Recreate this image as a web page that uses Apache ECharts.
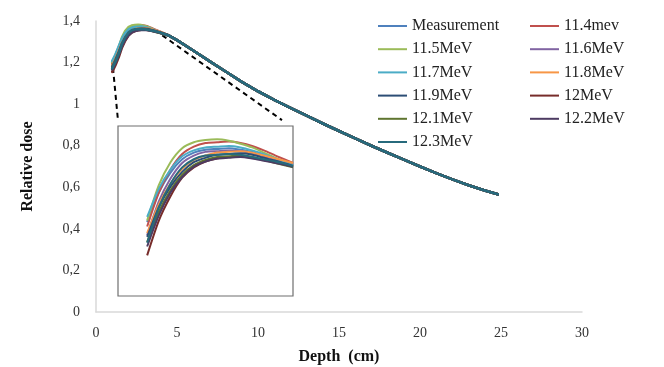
<!DOCTYPE html>
<html>
<head>
<meta charset="utf-8">
<script src="https://cdn.jsdelivr.net/npm/echarts@6/dist/echarts.min.js"></script>
<style>html,body{margin:0;padding:0;background:#fff}#c{width:664px;height:367px}</style>
</head>
<body>
<div id="c"></div>
<script>
// ---- data ----
var seriesNames = ['Measurement','11.4mev','11.5MeV','11.6MeV','11.7MeV','11.8MeV','11.9MeV','12MeV','12.1MeV','12.2MeV','12.3MeV'];
var seriesColors = ['#4F81BD','#C0504D','#9BBB59','#8064A2','#4BACC6','#F79646','#2C4D75','#772C2A','#5F7530','#4D3B62','#276A7C'];
var legendLeftNames = ['Measurement','11.5MeV','11.7MeV','11.9MeV','12.1MeV','12.3MeV'];
var legendRightNames = ['11.4mev','11.6MeV','11.8MeV','12MeV','12.2MeV'];

// build-up region depths (cm)
var headDepth = [1.0, 1.2, 1.4, 1.6, 1.8, 2.0, 2.2, 2.4, 2.6, 2.8, 3.0, 3.2, 3.4, 3.6, 3.9];
var doseMeasurement = [1.200,1.232,1.270,1.310,1.337,1.355,1.364,1.368,1.369,1.370,1.368,1.365,1.360,1.355,1.347];
var dose11_4 = [1.194,1.226,1.264,1.310,1.341,1.362,1.372,1.377,1.378,1.379,1.377,1.373,1.367,1.360,1.350];
var dose11_5 = [1.202,1.234,1.272,1.320,1.351,1.370,1.378,1.381,1.382,1.380,1.376,1.371,1.364,1.357,1.345];
var dose11_6 = [1.182,1.214,1.252,1.298,1.329,1.350,1.360,1.365,1.366,1.367,1.366,1.363,1.359,1.355,1.348];
var dose11_7 = [1.207,1.239,1.277,1.315,1.341,1.359,1.367,1.371,1.372,1.373,1.371,1.367,1.362,1.356,1.347];
var dose11_8 = [1.185,1.217,1.255,1.294,1.322,1.342,1.354,1.360,1.364,1.365,1.366,1.364,1.360,1.356,1.350];
var dose11_9 = [1.180,1.212,1.250,1.290,1.318,1.338,1.351,1.357,1.361,1.362,1.363,1.361,1.357,1.353,1.346];
var dose12_0 = [1.155,1.187,1.225,1.272,1.305,1.330,1.344,1.352,1.356,1.358,1.359,1.357,1.354,1.351,1.345];
var dose12_1 = [1.173,1.205,1.243,1.284,1.313,1.334,1.347,1.354,1.358,1.359,1.360,1.358,1.354,1.350,1.344];
var dose12_2 = [1.167,1.199,1.237,1.279,1.310,1.331,1.345,1.352,1.356,1.357,1.358,1.356,1.353,1.350,1.345];
var dose12_3 = [1.172,1.204,1.242,1.290,1.322,1.344,1.355,1.360,1.361,1.362,1.361,1.358,1.355,1.352,1.346];

// fall-off region (all curves coincide)
var tailDepth = [4.5, 5, 6, 7, 8, 9, 10, 11, 12, 13, 14, 15, 16, 17, 18, 19, 20, 21, 22, 23, 24, 24.8];
var tailDose  = [1.330,1.308,1.258,1.207,1.157,1.107,1.062,1.021,0.982,0.945,0.907,0.871,0.835,0.800,0.766,0.733,0.700,0.668,0.638,0.610,0.585,0.566];

// zoom connector (dashed) end points, in chart data units
var connectorLeft  = [[1.05, 1.174], [1.36, 0.919]];
var connectorRight = [[3.64, 1.356], [11.48, 0.923]];

var xTicks = {min: 0, max: 30, interval: 5};
var yTicks = {min: 0, max: 1.4, interval: 0.2};
var insetStartDepth = 1.4;

// ---- chart ----
var headDose = [doseMeasurement, dose11_4, dose11_5, dose11_6, dose11_7, dose11_8, dose11_9, dose12_0, dose12_1, dose12_2, dose12_3];
var serif = '"Liberation Serif", "Times New Roman", serif';

var series = [];
seriesNames.forEach(function (name, i) {
  var full = [];
  headDepth.forEach(function (d, k) { full.push([d, headDose[i][k]]); });
  tailDepth.forEach(function (d, k) { full.push([d, tailDose[k]]); });
  series.push({
    name: name, type: 'line', xAxisIndex: 0, yAxisIndex: 0,
    data: full, symbol: 'none', smooth: false,
    lineStyle: {width: 2.6, color: seriesColors[i], join: 'round', cap: 'round'}, itemStyle: {color: seriesColors[i]},
    emphasis: {disabled: true}, z: 2
  });
});
seriesNames.forEach(function (name, i) {
  var inset = [];
  headDepth.forEach(function (d, k) { if (d >= insetStartDepth) inset.push([d, headDose[i][k]]); });
  series.push({
    name: name, type: 'line', xAxisIndex: 1, yAxisIndex: 1,
    data: inset, symbol: 'none', smooth: 0.25,
    lineStyle: {width: 2, color: seriesColors[i], join: 'round'}, itemStyle: {color: seriesColors[i]},
    emphasis: {disabled: true}, z: 5
  });
});
[connectorLeft, connectorRight].forEach(function (seg) {
  series.push({
    name: 'connector', type: 'line', xAxisIndex: 0, yAxisIndex: 0, data: seg,
    symbol: 'none', lineStyle: {width: 2, color: '#000', type: [5, 4]}, z: 1, silent: true
  });
});

var legendBase = {
  orient: 'vertical', itemWidth: 29, itemHeight: 14, itemGap: 7.2, top: 18, padding: 0,
  icon: 'path://M0,6 L29,6 L29,8 L0,8 Z',
  textStyle: {fontFamily: serif, fontSize: 16, color: '#222'},
  selectedMode: false
};

var option = {
  animation: false,
  backgroundColor: '#fff',
  legend: [
    Object.assign({}, legendBase, {left: 378, data: legendLeftNames.map(function (n) { return {name: n, itemStyle: {color: seriesColors[seriesNames.indexOf(n)]}}; })}),
    Object.assign({}, legendBase, {left: 530, data: legendRightNames.map(function (n) { return {name: n, itemStyle: {color: seriesColors[seriesNames.indexOf(n)]}}; })})
  ],
  grid: [
    {left: 96, right: 82, top: 21, bottom: 55, containLabel: false, outerBoundsMode: 'none'},
    {left: 118, top: 126, width: 175, height: 170, show: true, borderColor: '#6f6f6f', borderWidth: 1.2, backgroundColor: '#fff', z: 4, outerBoundsMode: 'none'}
  ],
  xAxis: [
    {
      type: 'value', gridIndex: 0, min: xTicks.min, max: xTicks.max, interval: xTicks.interval,
      name: 'Depth  (cm)', nameLocation: 'middle', nameGap: 37,
      nameTextStyle: {fontFamily: serif, fontSize: 16, fontWeight: 'bold', color: '#111'},
      axisLine: {show: true, lineStyle: {color: '#d9d9d9', width: 1.5}},
      axisTick: {show: false}, splitLine: {show: false},
      axisLabel: {fontFamily: serif, fontSize: 14, color: '#333', margin: 14}
    },
    {type: 'value', gridIndex: 1, min: 0.9, max: 3.9, show: false}
  ],
  yAxis: [
    {
      type: 'value', gridIndex: 0, min: yTicks.min, max: yTicks.max, interval: yTicks.interval,
      name: 'Relative dose', nameLocation: 'middle', nameGap: 60, nameRotate: 90,
      nameTextStyle: {fontFamily: serif, fontSize: 16, fontWeight: 'bold', color: '#111'},
      axisLine: {show: true, lineStyle: {color: '#d9d9d9', width: 1.5}},
      axisTick: {show: false}, splitLine: {show: false},
      axisLabel: {fontFamily: serif, fontSize: 14, color: '#333', margin: 16,
        formatter: function (v) { return String(Math.round(v * 10) / 10).replace('.', ','); }}
    },
    {type: 'value', gridIndex: 1, min: 1.17, max: 1.40, show: false}
  ],
  series: series
};

var chart = echarts.init(document.getElementById('c'), null, {renderer: 'canvas'});
chart.setOption(option);
</script>
</body>
</html>
